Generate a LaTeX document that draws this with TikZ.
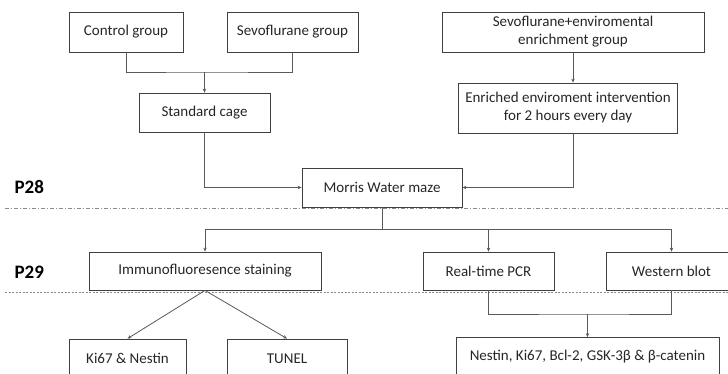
\documentclass[tikz,border=0pt]{standalone}
\usepackage{fontspec}
\setmainfont{Carlito}
\usetikzlibrary{arrows.meta}
\tikzset{
    box/.style n args={2}{draw=boxcolor, line width=0.8pt, minimum width=#1, minimum height=#2,
        inner sep=0pt, align=center, font=\fontsize{15}{18}\selectfont, text=black!85},
    link/.style={draw=linkcolor, line width=0.8pt},
    tip/.style={link, -{Stealth[length=4pt,width=3.5pt]}}
}

\begin{document}
\begin{tikzpicture}[x=1pt,y=-1pt]
  % Colors
    \colorlet{boxcolor}{black!75}
    \colorlet{linkcolor}{black!65}
    \colorlet{sepcolor}{black!45}

    \useasboundingbox (0,0) rectangle (728,374);
    \clip (0,0) rectangle (728,374);

  % The graphic
  % first row
    \node[box={114pt}{40pt}] (ctrl) at (126,32) {Control group};
    \node[box={131pt}{40pt}] (sevo) at (292.5,32) {Sevoflurane group};
    \node[box={262pt}{40pt}] (sevoee) at (573,32) {Sevoflurane+enviromental\\enrichment group};

  % housing
    \node[box={131pt}{39pt}] (cage) at (204.5,112.5) {Standard cage};
    \node[box={219pt}{50pt}] (enrich) at (568,108) {Enriched enviroment intervention\\for 2 hours every day};

    \node[box={160pt}{39pt}] (morris) at (382,187.5) {Morris Water maze};

  % tests
    \node[box={232pt}{38pt}] (immuno) at (205,271) {Immunofluoresence staining};
    \node[box={131pt}{38pt}] (pcr) at (488.5,271) {Real-time PCR};
    \node[box={131pt}{38pt}] (western) at (671.5,271) {Western blot};

    \node[box={117pt}{39pt}] (ki) at (127.5,358.5) {Ki67 \& Nestin};
    \node[box={120pt}{39pt}] (tunel) at (287,358.5) {TUNEL};
    \node[box={263pt}{39pt}] (markers) at (587.5,357) {Nestin, Ki67, Bcl-2, GSK-3β \& β-catenin};

  % days
    \node[font=\fontsize{19}{22}\selectfont\bfseries, anchor=west] (p28) at (11,187.5) {P28};
    \node[font=\fontsize{19}{22}\selectfont\bfseries, anchor=west] (p29) at (11,272) {P29};
    \draw[sepcolor, line width=0.8pt, dash pattern=on 4pt off 2pt on 1pt off 2pt] (5,208.5) -- (728,208.5);
    \draw[sepcolor, line width=0.8pt, dash pattern=on 2pt off 1.5pt] (5,292.5) -- (728,292.5);

  % connectors
    \coordinate (j1) at (204.5,72);
    \draw[link] (ctrl.south) |- (j1) -| (sevo.south);
    \draw[tip] (j1) -- (cage.north);
    \draw[tip] (sevoee.south) -- (sevoee.south |- enrich.north);

    \draw[tip] (cage.south) |- (morris.west);
    \draw[tip] (enrich.south -| sevoee.south) |- (morris.east);

    \coordinate (j2) at (382,229);
    \draw[link] (morris.south) -- (j2);
    \draw[tip] (j2) -| (immuno.north);
    \draw[tip] (j2) -| (pcr.north);
    \draw[tip] (j2) -| (western.north);

    \draw[tip] (immuno.south) -- (ki.north);
    \draw[tip] (immuno.south) -- (tunel.north);

    \coordinate (j3) at (587.5,314);
    \draw[link] (pcr.south) |- (j3) -| (western.south);
    \draw[tip] (j3) -- (markers.north);
\end{tikzpicture}
\end{document}
